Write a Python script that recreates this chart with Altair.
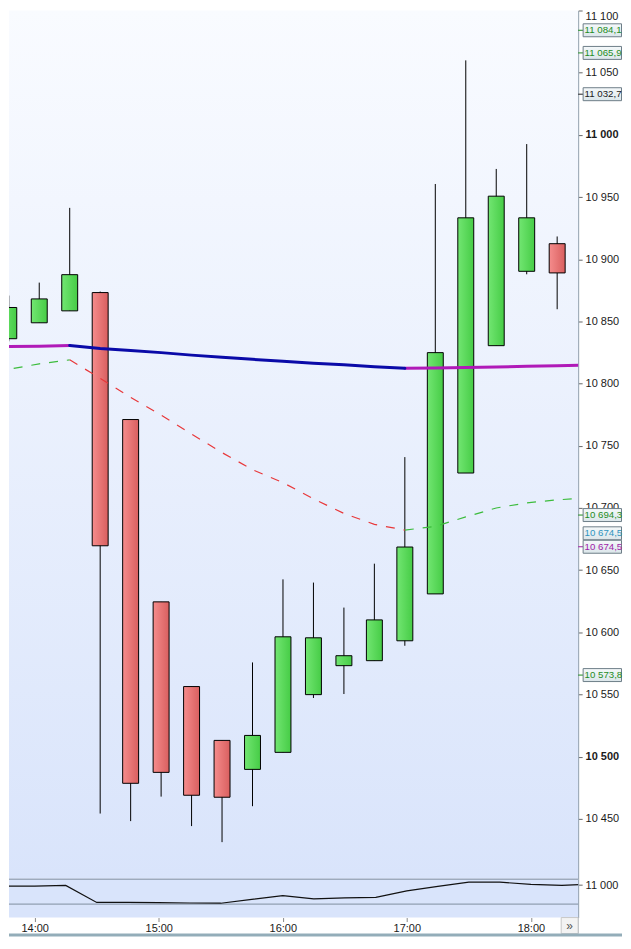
import altair as alt
import pandas as pd

# ---------------- data ----------------
candle_times = ["13:45", "14:00", "14:15", "14:30", "14:45", "15:00", "15:15", "15:30",
                "15:45", "16:00", "16:15", "16:30", "16:45", "17:00", "17:15", "17:30",
                "17:45", "18:00", "18:15"]
open_ = [10836.1, 10848.9, 10858.5, 10873.2, 10771.1, 10624.5, 10556.4, 10513.1, 10489.8,
         10503.5, 10549.9, 10573.2, 10577.2, 10593.2, 10630.9, 10728.1, 10830.5, 10890.3, 10912.5]
high = [10870.8, 10881.2, 10941.3, 10874.0, 10771.1, 10624.5, 10556.4, 10513.1, 10575.8,
        10642.6, 10640.0, 10619.9, 10655.2, 10740.9, 10960.5, 11059.9, 10972.6, 10992.6, 10918.3]
low = [10834.0, 10848.9, 10858.5, 10454.3, 10448.2, 10467.9, 10444.2, 10431.3, 10460.2,
       10503.5, 10547.2, 10550.4, 10577.2, 10589.2, 10630.9, 10728.1, 10830.5, 10887.9, 10859.8]
close = [10861.2, 10868.1, 10887.6, 10669.6, 10478.6, 10487.4, 10469.0, 10467.4, 10517.1,
         10596.4, 10595.6, 10581.2, 10610.0, 10668.6, 10824.9, 10933.3, 10950.7, 10933.3, 10889.0]

ma_times = ["13:30"] + candle_times + ["18:30"]
ma_slow = [10829.5, 10829.9, 10830.1, 10830.7, 10828.3, 10826.7, 10824.9, 10822.9, 10821.1,
           10819.5, 10817.9, 10816.4, 10815.1, 10813.6, 10812.3, 10812.5, 10812.9, 10813.4,
           10813.9, 10814.4, 10815.0]
ma_fast = [10807.3, 10811.5, 10815.9, 10819.1, 10804.3, 10789.0, 10774.6, 10759.4, 10744.5,
           10730.8, 10720.4, 10707.3, 10695.6, 10686.8, 10682.2, 10685.2, 10692.8, 10700.0,
           10704.1, 10706.5, 10708.1]
overview = [10987, 10987, 10987, 10997, 10787, 10787, 10785, 10780, 10777, 10825, 10870,
            10830, 10843, 10850, 10930, 10984, 11037, 11037, 11010, 10997, 11015]

y_ticks = [10450, 10500, 10550, 10600, 10650, 10700, 10750, 10800, 10850, 10900, 10950,
           11000, 11050, 11100]
x_ticks = ["14:00", "15:00", "16:00", "17:00", "18:00"]
overview_ticks = [11000]

marker_values = [11084.1, 11065.9, 11032.7, 10694.3, 10674.5, 10674.5, 10573.8]

# ---------------- styles / layout ----------------
marker_colors = ["#1e8c1e", "#1e8c1e", "#202020", "#1e8c1e", "#2f94bf", "#a01aa8", "#1e8c1e"]
marker_shift_px = [0, 0, 0, 0, -6.4, 7.1, 10.2]

W, H_MAIN, H_BOT = 571, 871, 39
RIGHT = 44              # room right of the plot for the price axis
STRIP = 16              # time label strip under the overview panel
PXU = 1.2477            # px per price unit
PXM = 31.11 / 15.0      # px per minute


def tmin(s):
    h, m = s.split(":")
    return int(h) * 60 + int(m)


X0 = 840 - 25.8 / PXM
X1 = X0 + W / PXM
Y1 = 11100.0
Y0 = Y1 - H_MAIN / PXU

AXIS_COL = "#8494a3"
LABEL_EXPR = "replace(format(datum.value, ','), ',', ' ')"

# ---------------- tables ----------------
cdf = pd.DataFrame({"t": [tmin(s) for s in candle_times], "o": open_, "h": high,
                    "l": low, "c": close})
cdf["bl"] = cdf[["o", "c"]].min(axis=1)
cdf["bh"] = cdf[["o", "c"]].max(axis=1)
up_df = cdf[cdf["c"] >= cdf["o"]]
dn_df = cdf[cdf["c"] < cdf["o"]]


def runs(times, vals):
    rows, seen = [], set()
    run, prev = 0, None
    for i in range(len(vals) - 1):
        d = "up" if vals[i + 1] >= vals[i] else "down"
        if prev is not None and d != prev:
            run += 1
        for k in (i, i + 1):
            if (run, k) not in seen:
                seen.add((run, k))
                rows.append({"t": tmin(times[k]), "v": vals[k], "run": run, "dir": d})
        prev = d
    return pd.DataFrame(rows)


slow_df = runs(ma_times, ma_slow)
fast_df = runs(ma_times, ma_fast)

mk = pd.DataFrame({
    "v": marker_values,
    "col": marker_colors,
    "shift": marker_shift_px,
    "txt": [f"{v:,.1f}".replace(",", " ").replace(".", ",") for v in marker_values],
})
mk["ly"] = mk["v"] - mk["shift"] / PXU
mk["b1"] = mk["ly"] - 6.5 / PXU
mk["b2"] = mk["ly"] + 6.5 / PXU

ov_df = pd.DataFrame({"t": [tmin(s) for s in ma_times], "v": overview})
one = pd.DataFrame({"a": [0]})

# ---------------- encodings ----------------
xs = alt.Scale(domain=[X0, X1], nice=False, zero=False)
ys = alt.Scale(domain=[Y0, Y1], nice=False, zero=False)

main_axis = alt.Axis(
    orient="right", values=y_ticks, labelExpr=LABEL_EXPR, title=None, grid=False,
    labelFontWeight={"condition": {"test": "datum.value % 500 === 0", "value": "bold"},
                     "value": "normal"},
    labelBaseline={"condition": {"test": "datum.value >= 11099", "value": "top"},
                   "value": "middle"},
    labelFlush=False, labelOverlap=False, tickSize=4, tickColor="#666666",
    domainColor=AXIS_COL, labelColor="#1a1a1a", labelPadding=3, labelFontSize=11,
)


def X(field="t"):
    return alt.X(f"{field}:Q", scale=xs, axis=None)


def Y(field):
    return alt.Y(f"{field}:Q", scale=ys, axis=main_axis)


bg = alt.Chart(one).mark_rect(
    fill={"gradient": "linear", "x1": 0, "x2": 0, "y1": 0, "y2": 1,
          "stops": [{"offset": 0, "color": "#f9fbff"}, {"offset": 1, "color": "#d9e4fb"}]}
).encode(x=alt.value(0), x2=alt.value(W), y=alt.value(0), y2=alt.value(H_MAIN))

wick = alt.Chart(cdf).mark_rule(color="black", strokeWidth=1, clip=True).encode(
    x=X(), y=Y("l"), y2="h:Q")

green_grad = {"gradient": "linear", "x1": 0, "x2": 1, "y1": 0, "y2": 0,
              "stops": [{"offset": 0, "color": "#72e672"}, {"offset": 1, "color": "#46cc46"}]}
red_grad = {"gradient": "linear", "x1": 0, "x2": 1, "y1": 0, "y2": 0,
            "stops": [{"offset": 0, "color": "#f58c8c"}, {"offset": 1, "color": "#d95f5f"}]}

body_up = alt.Chart(up_df).mark_bar(size=16, fill=green_grad, stroke="black",
                                    strokeWidth=1, clip=True).encode(
    x=X(), y=Y("bl"), y2="bh:Q")
body_dn = alt.Chart(dn_df).mark_bar(size=16, fill=red_grad, stroke="black",
                                    strokeWidth=1, clip=True).encode(
    x=X(), y=Y("bl"), y2="bh:Q")


def line_layer(df, direction, color, **kw):
    return alt.Chart(df[df["dir"] == direction]).mark_line(
        color=color, clip=True, **kw).encode(x=X(), y=Y("v"), detail="run:N")


slow_up = line_layer(slow_df, "up", "#b01ab8", strokeWidth=3, strokeCap="round")
slow_dn = line_layer(slow_df, "down", "#0a0aa8", strokeWidth=3, strokeCap="round")
fast_up = line_layer(fast_df, "up", "#3cbc3c", strokeWidth=1.2, strokeDash=[9, 9])
fast_dn = line_layer(fast_df, "down", "#e8383a", strokeWidth=1.2, strokeDash=[9, 9])

mk_tick = alt.Chart(mk[mk["col"] != "#2f94bf"]).mark_rule(strokeWidth=1).encode(
    x=alt.value(W), x2=alt.value(W + 5), y=Y("ly"),
    color=alt.Color("col:N", scale=None))
mk_box = alt.Chart(mk).mark_rect(
    stroke="#6d7d88", strokeWidth=1,
    fill={"gradient": "linear", "x1": 0, "x2": 0, "y1": 0, "y2": 1,
          "stops": [{"offset": 0, "color": "#f5f9fa"}, {"offset": 1, "color": "#dbe6ea"}]}
).encode(x=alt.value(W + 5), x2=alt.value(W + RIGHT - 0.5), y=Y("b1"), y2="b2:Q")
mk_text = alt.Chart(mk).mark_text(align="left", baseline="middle", fontSize=9.7).encode(
    x=alt.value(W + 6.5), y=Y("ly"), text="txt:N", color=alt.Color("col:N", scale=None))

main = alt.layer(bg, wick, body_up, body_dn, slow_up, slow_dn, fast_up, fast_dn,
                 mk_tick, mk_box, mk_text).properties(width=W, height=H_MAIN)

# ---------------- overview panel ----------------
ys2 = alt.Scale(domain=[10600, 11080], nice=False, zero=False)
bot_axis = alt.Axis(orient="right", values=overview_ticks, labelExpr=LABEL_EXPR, title=None,
                    grid=False, tickSize=4, tickColor="#666666", domainColor=AXIS_COL,
                    labelColor="#1a1a1a", labelPadding=3, labelFontSize=11)
x_axis = alt.Axis(orient="bottom", values=[tmin(s) for s in x_ticks],
                  labelExpr="floor(datum.value / 60) + ':' + format(datum.value % 60, '02d')",
                  title=None, grid=False, domain=False, tickSize=4, tickColor="#888888",
                  labelPadding=1, labelFontSize=11, labelColor="#1a1a1a", labelFlush=False)

bg2 = alt.Chart(one).mark_rect(fill="#d9e4fb").encode(
    x=alt.value(0), x2=alt.value(W), y=alt.value(0), y2=alt.value(H_BOT))
hl1 = alt.Chart(one).mark_rule(color="#7f8f9f", strokeWidth=1).encode(
    x=alt.value(0), x2=alt.value(W), y=alt.value(0.5))
hl2 = alt.Chart(one).mark_rule(color="#7f8f9f", strokeWidth=1).encode(
    x=alt.value(0), x2=alt.value(W), y=alt.value(25.5))
ov_line = alt.Chart(ov_df).mark_line(color="#111111", strokeWidth=1.2, clip=True).encode(
    x=alt.X("t:Q", scale=xs, axis=x_axis),
    y=alt.Y("v:Q", scale=ys2, axis=bot_axis))
axis_ext = alt.Chart(one).mark_rule(color=AXIS_COL, strokeWidth=1).encode(
    x=alt.value(W), y=alt.value(H_BOT), y2=alt.value(H_BOT + STRIP))
chev_box = alt.Chart(one).mark_rect(fill="#f3f3f3", stroke="#c8c8c8", strokeWidth=1).encode(
    x=alt.value(W - 17), x2=alt.value(W), y=alt.value(H_BOT), y2=alt.value(H_BOT + STRIP))
chev_txt = alt.Chart(one).mark_text(text="»", fontSize=12, color="#555555",
                                    baseline="middle").encode(
    x=alt.value(W - 8.5), y=alt.value(H_BOT + STRIP / 2))
bar = alt.Chart(one).mark_rect(fill="#93adb9").encode(
    x=alt.value(0), x2=alt.value(W + RIGHT), y=alt.value(H_BOT + STRIP),
    y2=alt.value(H_BOT + STRIP + 3))

bottom = alt.layer(bg2, hl1, hl2, ov_line, axis_ext, chev_box, chev_txt, bar).properties(
    width=W, height=H_BOT)

chart = (
    alt.vconcat(main, bottom, spacing=0)
    .resolve_scale(x="independent", y="independent")
    .properties(padding=0)
    .configure(font="Liberation Sans")
    .configure_view(stroke=None)
)

chart.save("out.html", embed_options={"renderer": "svg", "actions": False})
